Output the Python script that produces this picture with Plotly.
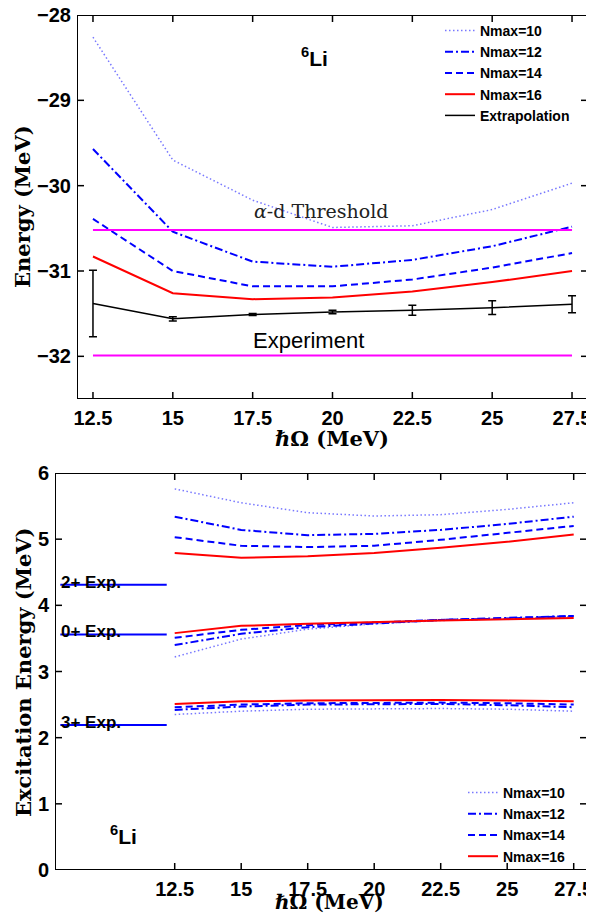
import plotly.graph_objects as go

W, H = 594, 921
OFF = 8  # page offset of the figure div (default body margin)
FW, FH = W - OFF, H - 2 * OFF  # keep the page from scrolling

# ---------------- data: top panel (ground-state energy) ----------------
hw = [12.5, 15, 17.5, 20, 22.5, 25, 27.5]
e_n10 = [-28.26, -29.70, -30.17, -30.49, -30.47, -30.28, -29.97]
e_n12 = [-29.57, -30.54, -30.89, -30.95, -30.87, -30.71, -30.48]
e_n14 = [-30.39, -31.00, -31.18, -31.18, -31.10, -30.96, -30.79]
e_n16 = [-30.83, -31.26, -31.33, -31.31, -31.24, -31.13, -31.00]
e_extrap = [-31.38, -31.56, -31.51, -31.48, -31.46, -31.43, -31.39]
e_extrap_err = [0.39, 0.025, 0.012, 0.02, 0.06, 0.08, 0.10]
threshold_x = [12.5, 27.5]
threshold_e = [-30.52, -30.52]
experiment_x = [12.5, 27.5]
experiment_e = [-31.99, -31.99]

# ---------------- data: bottom panel (excitation energies) ----------------
x2_n10 = [5.76, 5.55, 5.40, 5.35, 5.37, 5.45, 5.55]
x2_n12 = [5.34, 5.14, 5.06, 5.08, 5.14, 5.23, 5.34]
x2_n14 = [5.03, 4.90, 4.88, 4.90, 4.99, 5.09, 5.20]
x2_n16 = [4.79, 4.72, 4.74, 4.79, 4.87, 4.96, 5.07]

x0_n10 = [3.22, 3.49, 3.64, 3.72, 3.77, 3.80, 3.83]
x0_n12 = [3.40, 3.57, 3.67, 3.73, 3.78, 3.81, 3.84]
x0_n14 = [3.51, 3.63, 3.70, 3.74, 3.78, 3.80, 3.84]
x0_n16 = [3.58, 3.69, 3.72, 3.75, 3.77, 3.79, 3.81]

x3_n10 = [2.35, 2.40, 2.43, 2.44, 2.44, 2.43, 2.40]
x3_n12 = [2.42, 2.47, 2.50, 2.51, 2.51, 2.49, 2.46]
x3_n14 = [2.46, 2.50, 2.52, 2.53, 2.53, 2.52, 2.50]
x3_n16 = [2.51, 2.55, 2.56, 2.57, 2.57, 2.56, 2.55]

exp_x = [8.2, 12.2]
exp_levels = [4.31, 3.56, 2.19]
exp_labels = ["2+ Exp.", "0+ Exp.", "3+ Exp."]

tick_vals = [12.5, 15, 17.5, 20, 22.5, 25, 27.5]
tick_text = ["12.5", "15", "17.5", "20", "22.5", "25", "27.5"]
ytick_top = [-32, -31, -30, -29, -28]
ytick_bottom = [0, 1, 2, 3, 4, 5, 6]
xrange_top, yrange_top = [12, 28], [-32.5, -28]
xrange_bottom, yrange_bottom = [8, 28], [0, 6]
names = ["Nmax=10", "Nmax=12", "Nmax=14", "Nmax=16"]

# ---------------- styles ----------------
styles = [
    dict(color="#7878ff", width=1.5, dash="1.5px,2.5px"),
    dict(color="#0000ff", width=2, dash="8px,3px,2px,3px"),
    dict(color="#0000ff", width=2, dash="7px,4px"),
    dict(color="#ff0000", width=2),
]

# panel boxes in page pixels: (left, right, top, bottom)
box_top = (77, 588, 15, 399)
box_bottom = (55, 587, 473, 870)
TICK_PX = 7

fig = go.Figure()

# top panel
for nm, ys, st in zip(names, [e_n10, e_n12, e_n14, e_n16], styles):
    fig.add_trace(go.Scatter(x=hw, y=ys, mode="lines", name=nm, line=st,
                             xaxis="x", yaxis="y", legend="legend"))
fig.add_trace(go.Scatter(x=hw, y=e_extrap, mode="lines", name="Extrapolation",
                         line=dict(color="black", width=1.5),
                         error_y=dict(type="data", array=e_extrap_err, visible=True,
                                      color="black", thickness=1.5, width=4),
                         xaxis="x", yaxis="y", legend="legend"))
fig.add_trace(go.Scatter(x=threshold_x, y=threshold_e, mode="lines", showlegend=False,
                         line=dict(color="#ff00ff", width=2), xaxis="x", yaxis="y"))
fig.add_trace(go.Scatter(x=experiment_x, y=experiment_e, mode="lines", showlegend=False,
                         line=dict(color="#ff00ff", width=2), xaxis="x", yaxis="y"))

# bottom panel
groups = [
    [x2_n10, x2_n12, x2_n14, x2_n16],
    [x0_n10, x0_n12, x0_n14, x0_n16],
    [x3_n10, x3_n12, x3_n14, x3_n16],
]
for gi, grp in enumerate(groups):
    for nm, ys, st in zip(names, grp, styles):
        fig.add_trace(go.Scatter(x=hw, y=ys, mode="lines", name=nm, line=st,
                                 xaxis="x2", yaxis="y2", legend="legend2",
                                 showlegend=(gi == 0), legendgroup=nm))
for lv in exp_levels:
    fig.add_trace(go.Scatter(x=exp_x, y=[lv, lv], mode="lines", showlegend=False,
                             line=dict(color="#0000ff", width=2), xaxis="x2", yaxis="y2"))

# axes frame + inward tick marks (MATLAB-style box)
def frame_traces(xr, yr, xt, yt, box, xa, ya):
    (x0, x1), (y0, y1) = xr, yr
    l, r, t, b = box
    dy = TICK_PX * (y1 - y0) / (b - t)
    dx = TICK_PX * (x1 - x0) / (r - l)
    fig.add_trace(go.Scatter(x=[x0, x1, x1, x0, x0], y=[y0, y0, y1, y1, y0],
                             mode="lines", line=dict(color="black", width=2),
                             showlegend=False, hoverinfo="skip", cliponaxis=False,
                             xaxis=xa, yaxis=ya))
    tx, ty = [], []
    for v in xt:
        tx += [v, v, None, v, v, None]
        ty += [y0, y0 + dy, None, y1, y1 - dy, None]
    for v in yt:
        tx += [x0, x0 + dx, None, x1, x1 - dx, None]
        ty += [v, v, None, v, v, None]
    fig.add_trace(go.Scatter(x=tx, y=ty, mode="lines", line=dict(color="black", width=1.5),
                             showlegend=False, hoverinfo="skip", cliponaxis=False,
                             xaxis=xa, yaxis=ya))

frame_traces(xrange_top, yrange_top, tick_vals, ytick_top, box_top, "x", "y")
frame_traces(xrange_bottom, yrange_bottom, tick_vals, ytick_bottom, box_bottom, "x2", "y2")

# ---------------- layout ----------------
def px_x(p):
    return (p - OFF) / FW

def px_y(p):
    return 1 - (p - OFF) / FH

clear = "rgba(0,0,0,0)"
tickfont = dict(family="Liberation Sans", size=20, color="black", weight="bold")
axis_common = dict(showline=True, linewidth=2, linecolor=clear, mirror=False,
                   ticks="inside", ticklen=TICK_PX, tickwidth=1.5, tickcolor=clear,
                   showgrid=False, zeroline=False, tickfont=tickfont,
                   automargin=False, ticklabeloverflow="allow")

legend_font = dict(family="Liberation Sans", size=14, color="black", weight="bold")
fig.update_layout(
    template="none",
    width=FW, height=FH,
    margin=dict(l=0, r=0, t=0, b=0, pad=0, autoexpand=False),
    paper_bgcolor="white", plot_bgcolor="white",
    xaxis=dict(domain=[px_x(box_top[0]), px_x(box_top[1])], range=xrange_top, anchor="y",
               tickvals=tick_vals, ticktext=tick_text, **axis_common),
    yaxis=dict(domain=[px_y(box_top[3]), px_y(box_top[2])], range=yrange_top, anchor="x",
               tickvals=ytick_top, **axis_common),
    xaxis2=dict(domain=[px_x(box_bottom[0]), px_x(box_bottom[1])], range=xrange_bottom,
                anchor="y2", tickvals=tick_vals, ticktext=tick_text, **axis_common),
    yaxis2=dict(domain=[px_y(box_bottom[3]), px_y(box_bottom[2])], range=yrange_bottom,
                anchor="x2", tickvals=ytick_bottom, **axis_common),
    legend=dict(x=px_x(440), y=px_y(15), xanchor="left", yanchor="top",
                bgcolor=clear, borderwidth=0, font=legend_font,
                itemwidth=30, tracegroupgap=0),
    legend2=dict(x=px_x(463), y=px_y(777), xanchor="left", yanchor="top",
                 bgcolor=clear, borderwidth=0, font=legend_font,
                 itemwidth=30, tracegroupgap=0),
)

serif_title = dict(family="DejaVu Serif", size=21, color="black", weight="bold")
ann = []
ann.append(dict(text="Energy (MeV)", x=px_x(23), y=px_y(207), textangle=-90,
                font=serif_title))
ann.append(dict(text="<i>ℏ</i>Ω (MeV)", x=px_x(332), y=px_y(438), font=serif_title))
ann.append(dict(text="Excitation Energy (MeV)", x=px_x(23), y=px_y(672), textangle=-90,
                font=serif_title))
ann.append(dict(text="<i>ℏ</i>Ω (MeV)", x=px_x(329), y=px_y(902),
                font=dict(family="DejaVu Serif", size=20, color="black", weight="bold")))
ann.append(dict(text="<i>α</i>-d Threshold", x=px_x(321), y=px_y(211),
                font=dict(family="DejaVu Serif", size=19, color="#222222")))
ann.append(dict(text="Experiment", x=px_x(308), y=px_y(340),
                font=dict(family="Liberation Sans", size=22, color="black")))
ann.append(dict(text="<sup>6</sup>Li", x=px_x(314), y=px_y(57),
                font=dict(family="Liberation Sans", size=21, color="black", weight="bold")))
ann.append(dict(text="<sup>6</sup>Li", x=px_x(123), y=px_y(835),
                font=dict(family="Liberation Sans", size=21, color="black", weight="bold")))
for a in ann:
    a.update(xref="paper", yref="paper", xanchor="center", yanchor="middle",
             showarrow=False)
for lv, lab in zip(exp_levels, exp_labels):
    ann.append(dict(text=lab, x=8.15, y=lv, xref="x2", yref="y2", xanchor="left",
                    yanchor="bottom", yshift=-9, showarrow=False,
                    font=dict(family="Liberation Sans", size=17, color="black", weight="bold")))
fig.update_layout(annotations=ann)

fig.write_html("out.html")
